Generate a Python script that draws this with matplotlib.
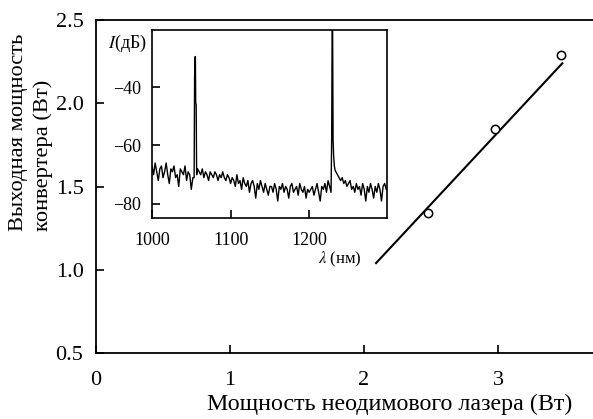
import numpy as np
import matplotlib
matplotlib.use("Agg")
import matplotlib.pyplot as plt

plt.rcParams['font.family'] = ['Liberation Serif', 'DejaVu Serif']
plt.rcParams['mathtext.fontset'] = 'stix'

# Main data: converter output vs neodymium laser power
pump_power = [2.48, 2.98, 3.47]
output_power = [1.34, 1.845, 2.29]
fit_x = [2.09, 3.48]
fit_y = [1.04, 2.24]

main_xticks = [0, 1, 2, 3]
main_yticks = [0.5, 1.0, 1.5, 2.0, 2.5]

# Inset spectrum: noise floor sampled every 2 nm from 1000 nm
noise_start, noise_step = 1000, 2
noise_db = [
    -67, -70, -66, -69, -72, -68, -67, -71, -69, -66, -70, -73, -68, -69, -67, -71,
    -70, -74, -68, -69, -70, -67, -72, -69, -70, -75, -71, -70,
    -69,
    -68, -69, -70, -68, -71, -69, -70, -72, -69, -70, -71, -69, -70, -72, -70, -71,
    -69, -71, -72, -70, -71, -73,
    -71, -72, -74, -70, -73, -72, -75, -71, -73, -74, -72, -76, -73, -72, -74, -78,
    -73, -75, -72, -74, -76, -73, -75, -77, -74,
    -74, -76, -73, -75, -79, -74, -75, -73, -76, -74, -75, -78, -74, -73, -76, -75,
    -74, -77, -73, -75, -76, -74, -78, -75, -76,
    -75, -74, -77, -75, -73, -76, -79, -74, -75, -73, -76, -72, -74,
    -73, -70, -68,
    -69, -70, -71, -72, -71, -73, -72, -74, -73, -72, -75, -74, -76, -73, -75, -74,
    -77, -73, -75, -79, -74, -76, -73, -75, -78, -74, -76, -73, -75, -79, -74, -73, -75,
]
# Laser lines (fine samples)
peak1_wl = [1053.6, 1054.2, 1054.8, 1055.2, 1055.6, 1056.2, 1056.8]
peak1_db = [-71, -37, -29.6, -29.6, -45.5, -46, -70]
peak2_wl = [1227.8, 1228.6, 1229.2, 1229.8, 1230.4, 1231.0, 1232.0, 1233.0]
peak2_db = [-76, -58, -20.5, -20.5, -58, -63, -67, -68.5]

inset_xticks = [1000, 1100, 1200]
inset_yticks = [-40, -60, -80]

W, H = 593, 419
fig = plt.figure(figsize=(W / 100, H / 100), dpi=100)

def rect(x0, y0, x1, y1):
    return [x0 / W, 1 - y1 / H, (x1 - x0) / W, (y1 - y0) / H]

ax = fig.add_axes(rect(96, 20, 593, 353))
ax.set_xlim(0, 497 / 134)
ax.set_ylim(0.5, 2.5)
ax.spines['right'].set_visible(False)
for s in ['left', 'bottom', 'top']:
    ax.spines[s].set_linewidth(1.3)
ax.set_xticks(main_xticks)
ax.set_yticks(main_yticks)
ax.set_xticklabels([str(v) for v in main_xticks])
ax.set_yticklabels(['%.1f' % v for v in main_yticks])
ax.tick_params(direction='in', length=6, width=1.2, labelsize=16)
ax.tick_params(axis='x', pad=13)
ax.tick_params(axis='y', pad=9)
ax.plot(fit_x, fit_y, color='black', lw=1.5)
ax.plot(pump_power, output_power, 'o', mfc='white', mec='black', ms=6, mew=1.1)

fig.text(390 / W, 1 - 404 / H, 'Мощность неодимового лазера (Вт)', ha='center', va='center', fontsize=17.3)
fig.text(31 / W, 1 - 231 / H, 'Выходная мощность\nконвертера (Вт)', rotation=90,
         ha='center', va='bottom', fontsize=16.2, multialignment='left', linespacing=1.3)

# Inset
ins = fig.add_axes(rect(152, 30, 387, 218))
noise_wl = noise_start + noise_step * np.arange(len(noise_db))
noise_db = np.array(noise_db, dtype=float)
mask = ~(((noise_wl >= 1053) & (noise_wl <= 1057)) | ((noise_wl >= 1227) & (noise_wl <= 1233)))
wl = np.concatenate([noise_wl[mask], peak1_wl, peak2_wl])
db = np.concatenate([noise_db[mask], peak1_db, peak2_db])
order = np.argsort(wl)
ins.plot(wl[order], db[order], color='black', lw=1.0)
ins.set_xlim(1000, 1299)
ins.set_ylim(-84.8, -20.5)
ins.set_xticks(inset_xticks)
ins.set_yticks(inset_yticks)
ins.set_xticklabels([str(v) for v in inset_xticks])
ins.set_yticklabels(['\u2212%d' % abs(v) for v in inset_yticks])
for s in ins.spines.values():
    s.set_linewidth(1.2)
ins.tick_params(direction='in', length=6, width=1.2, labelsize=13)
ins.tick_params(axis='x', pad=10)
ins.tick_params(axis='y', pad=8)

fig.text(127 / W, 1 - 43 / H, r'$I$(дБ)', ha='center', va='center', fontsize=13)
fig.text(340 / W, 1 - 259 / H, r'$\lambda$ (нм)', ha='center', va='center', fontsize=12)

fig.savefig('out.png', dpi=100)
